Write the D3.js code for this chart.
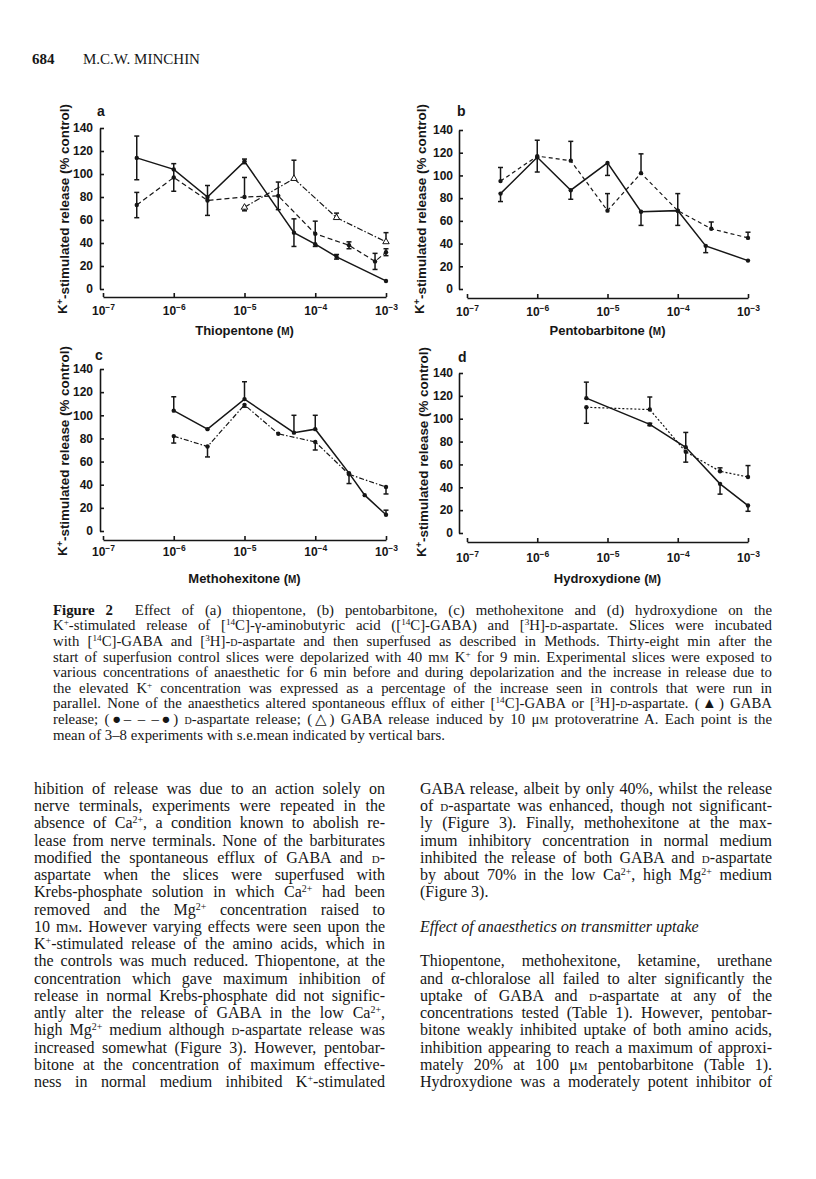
<!DOCTYPE html>
<html>
<head>
<meta charset="utf-8">
<script src="https://cdn.jsdelivr.net/npm/d3@7"></script>
<style>
body { margin: 0; background: #fff; width: 816px; height: 1179px; position: relative; overflow: hidden; }
svg { position: absolute; left: 0; top: 0; }
.ln { position: absolute; text-align: justify; text-align-last: justify; font-family: "Liberation Serif", "Times New Roman", serif; color: #161616; }
.ln.rag { text-align-last: left; }
.sc { font-variant: small-caps; }
sup { font-size: 0.62em; line-height: 0; vertical-align: 0.5em; }
</style>
</head>
<body>
<svg id="chart" width="816" height="1179"></svg>
<script>
var svg = d3.select("#chart");
var ink = "#161616";
var sans = "'Liberation Sans', Arial, Helvetica, sans-serif";

// ---- values (% of control K+-stimulated release) ----
var yTicks = [0, 20, 40, 60, 80, 100, 120, 140];
var xTicks = [1e-7, 1e-6, 1e-5, 1e-4, 1e-3];

// (a) thiopentone
var aGabaConc = [3e-7, 1e-6, 3e-6, 1e-5, 5e-5, 1e-4, 2e-4, 1e-3];
var aGabaVal  = [114, 104, 80, 111, 49, 39, 28, 7];
var aGabaUp   = [19, 0, 0, 2, 12, 0, 2, 0];
var aGabaDn   = [19, 0, 0, 2, 12, 0, 2, 0];
var aAspConc  = [3e-7, 1e-6, 3e-6, 1e-5, 3e-5, 1e-4, 3e-4, 7e-4, 1e-3];
var aAspVal   = [73, 97, 77, 80, 81, 48, 38, 24, 32];
var aAspUp    = [11, 12, 13, 17, 12, 11, 3, 7, 3];
var aAspDn    = [11, 12, 13, 0, 12, 11, 3, 7, 3];
var aProtoConc = [1e-5, 5e-5, 2e-4, 1e-3];
var aProtoVal  = [71, 96, 62, 41];
var aProtoUp   = [0, 16, 4, 8];
var aProtoDn   = [3, 0, 0, 0];

// (b) pentobarbitone
var bGabaConc = [3e-7, 1e-6, 3e-6, 1e-5, 3e-5, 1e-4, 2.5e-4, 1e-3];
var bGabaVal  = [84, 116, 87, 111, 68, 69, 38, 25];
var bGabaUp   = [0, 0, 0, 0, 0, 0, 0, 0];
var bGabaDn   = [7, 13, 8, 11, 12, 13, 6, 0];
var bAspConc  = [3e-7, 1e-6, 3e-6, 1e-5, 3e-5, 1e-4, 3e-4, 1e-3];
var bAspVal   = [95, 117, 113, 69, 102, 69, 53, 45];
var bAspUp    = [12, 14, 17, 15, 17, 15, 6, 5];
var bAspDn    = [0, 0, 0, 0, 0, 0, 0, 0];

// (c) methohexitone
var cGabaConc = [1e-6, 3e-6, 1e-5, 5e-5, 1e-4, 3e-4, 5e-4, 1e-3];
var cGabaVal  = [104, 88, 114, 85, 88, 50, 31, 14];
var cGabaUp   = [12, 0, 15, 15, 12, 0, 0, 4];
var cGabaDn   = [0, 0, 0, 0, 0, 0, 0, 0];
var cAspConc  = [1e-6, 3e-6, 1e-5, 3e-5, 1e-4, 3e-4, 1e-3];
var cAspVal   = [82, 73, 109, 84, 77, 49, 38];
var cAspUp    = [0, 0, 0, 0, 0, 0, 0];
var cAspDn    = [6, 9, 2, 0, 7, 8, 6];

// (d) hydroxydione
var dGabaConc = [5e-6, 4e-5, 1.3e-4, 4e-4, 1e-3];
var dGabaVal  = [118, 95, 75, 43, 24];
var dGabaUp   = [14, 1, 13, 0, 0];
var dGabaDn   = [0, 1, 0, 9, 5];
var dAspConc  = [5e-6, 4e-5, 1.3e-4, 4e-4, 1e-3];
var dAspVal   = [110, 108, 71, 54, 49];
var dAspUp    = [0, 11, 0, 3, 10];
var dAspDn    = [14, 0, 9, 0, 0];

function series(conc, val, up, dn) { //zip the arrays into point objects
	return conc.map(function(c, i) { return {c: c, v: val[i], up: up[i], dn: dn[i]}; });
}

var panels = [
	{key: "a", drug: "Thiopentone", left: 103, right: 386, axisX: 100, base: 289, top: 128, axisY: 297, xPad: 9, yPad: 7,
		titleY: 335, labelX: 67, labelY: 209, letterX: 97, letterY: 116,
		lines: [
			{data: series(aGabaConc, aGabaVal, aGabaUp, aGabaDn), dash: null, mark: "dot"},
			{data: series(aAspConc, aAspVal, aAspUp, aAspDn), dash: "5,3", mark: "dot"},
			{data: series(aProtoConc, aProtoVal, aProtoUp, aProtoDn), dash: "6,2,1.5,2", mark: "tri"}
		]},
	{key: "b", drug: "Pentobarbitone", left: 467, right: 748, axisX: 459, base: 289, top: 130, axisY: 298, xPad: 9, yPad: 6,
		titleY: 335, labelX: 424, labelY: 209, letterX: 457, letterY: 116,
		lines: [
			{data: series(bGabaConc, bGabaVal, bGabaUp, bGabaDn), dash: null, mark: "dot"},
			{data: series(bAspConc, bAspVal, bAspUp, bAspDn), dash: "4,3", mark: "dot"}
		]},
	{key: "c", drug: "Methohexitone", left: 103, right: 386, axisX: 100, base: 531, top: 369, axisY: 540, xPad: 7, yPad: 7,
		titleY: 583, labelX: 67, labelY: 451, letterX: 95, letterY: 360,
		lines: [
			{data: series(cGabaConc, cGabaVal, cGabaUp, cGabaDn), dash: null, mark: "dot"},
			{data: series(cAspConc, cAspVal, cAspUp, cAspDn), dash: "5,2,1.5,2", mark: "dot"}
		]},
	{key: "d", drug: "Hydroxydione", left: 467, right: 748, axisX: 459, base: 533, top: 373, axisY: 542, xPad: 11, yPad: 6,
		titleY: 583, labelX: 426, labelY: 452, letterX: 458, letterY: 362,
		lines: [
			{data: series(dGabaConc, dGabaVal, dGabaUp, dGabaDn), dash: null, mark: "dot"},
			{data: series(dAspConc, dAspVal, dAspUp, dAspDn), dash: "2,2", mark: "dot"}
		]}
];

panels.forEach(drawPanel);

function drawPanel(p) {
	var x = d3.scaleLog().domain([1e-7, 1e-3]).range([p.left, p.right]);
	var y = d3.scaleLinear().domain([0, 140]).range([p.base, p.top]);
	var g = svg.append("g").attr("class", "panel-" + p.key);

	// y axis, ticks pointing inwards
	g.append("g")
		.attr("transform", "translate(" + p.axisX + ",0)")
		.call(d3.axisLeft(y).tickValues(yTicks).tickSize(-4).tickSizeOuter(0).tickPadding(p.yPad));

	// detached x axis, ticks pointing up, labels as powers of ten
	var xa = g.append("g")
		.attr("transform", "translate(0," + p.axisY + ")")
		.call(d3.axisBottom(x).tickValues(xTicks).tickSize(-4).tickSizeOuter(0).tickPadding(p.xPad)
			.tickFormat(function() { return "10"; }));
	xa.selectAll(".tick text").append("tspan")
		.attr("dy", "-0.55em")
		.attr("font-size", "8.5px")
		.text(function(d) { return "\u2212" + Math.round(-Math.log10(d)); });

	g.selectAll(".domain, .tick line").attr("stroke", ink).attr("stroke-width", 1.6);
	g.selectAll(".tick text")
		.attr("fill", ink)
		.attr("font-family", sans)
		.attr("font-size", 12)
		.attr("font-weight", "bold");

	var line = d3.line()
		.x(function(d) { return x(d.c); })
		.y(function(d) { return y(d.v); });

	p.lines.forEach(function(s) {
		g.append("path")
			.datum(s.data)
			.attr("d", line)
			.attr("fill", "none")
			.attr("stroke", ink)
			.attr("stroke-width", s.dash ? 1.2 : 1.5)
			.attr("stroke-dasharray", s.dash);

		// s.e.mean bars (one-sided where the figure shows only one half)
		var bars = g.append("g")
			.selectAll("g")
			.data(s.data.filter(function(d) { return d.up || d.dn; }))
			.enter().append("g")
			.attr("stroke", ink)
			.attr("stroke-width", 1.5);
		bars.append("line")
			.attr("x1", function(d) { return x(d.c); })
			.attr("x2", function(d) { return x(d.c); })
			.attr("y1", function(d) { return y(d.v - d.dn); })
			.attr("y2", function(d) { return y(d.v + d.up); });
		bars.filter(function(d) { return d.up; }).append("line")
			.attr("x1", function(d) { return x(d.c) - 2.5; })
			.attr("x2", function(d) { return x(d.c) + 2.5; })
			.attr("y1", function(d) { return y(d.v + d.up); })
			.attr("y2", function(d) { return y(d.v + d.up); });
		bars.filter(function(d) { return d.dn; }).append("line")
			.attr("x1", function(d) { return x(d.c) - 2.5; })
			.attr("x2", function(d) { return x(d.c) + 2.5; })
			.attr("y1", function(d) { return y(d.v - d.dn); })
			.attr("y2", function(d) { return y(d.v - d.dn); });

		if (s.mark == "tri") {
			g.append("g").selectAll("path")
				.data(s.data)
				.enter().append("path")
				.attr("d", d3.symbol().type(d3.symbolTriangle).size(18))
				.attr("transform", function(d) { return "translate(" + x(d.c) + "," + y(d.v) + ")"; })
				.attr("fill", "#fff")
				.attr("stroke", ink)
				.attr("stroke-width", 1);
		} else {
			g.append("g").selectAll("circle")
				.data(s.data)
				.enter().append("circle")
				.attr("cx", function(d) { return x(d.c); })
				.attr("cy", function(d) { return y(d.v); })
				.attr("r", 2.2)
				.attr("fill", ink);
		}
	});

	// axis title with small-capital M
	var t = g.append("text")
		.attr("x", (p.left + p.right) / 2)
		.attr("y", p.titleY)
		.attr("text-anchor", "middle")
		.attr("font-family", sans)
		.attr("font-size", 13)
		.attr("font-weight", "bold")
		.attr("fill", ink);
	t.append("tspan").text(p.drug + " (");
	t.append("tspan").attr("font-size", "10px").text("M");
	t.append("tspan").text(")");

	// rotated y label
	var yl = g.append("text")
		.attr("transform", "translate(" + p.labelX + "," + p.labelY + ") rotate(-90)")
		.attr("text-anchor", "middle")
		.attr("font-family", sans)
		.attr("font-size", 13.4)
		.attr("font-weight", "bold")
		.attr("fill", ink);
	yl.append("tspan").text("K");
	yl.append("tspan").attr("dy", "-0.5em").attr("font-size", "9px").text("+");
	yl.append("tspan").attr("dy", "0.5em").text("-stimulated release (% control)");

	g.append("text")
		.attr("x", p.letterX)
		.attr("y", p.letterY)
		.attr("font-family", sans)
		.attr("font-size", 14)
		.attr("font-weight", "bold")
		.attr("fill", ink)
		.text(p.key);
}

// ---- page text ----
var caption = [
	'<b>Figure 2</b>&nbsp; Effect of (a) thiopentone, (b) pentobarbitone, (c) methohexitone and (d) hydroxydione on the',
	'K<sup>+</sup>-stimulated release of [<sup>14</sup>C]-γ-aminobutyric acid ([<sup>14</sup>C]-GABA) and [<sup>3</sup>H]-<span class="sc">d</span>-aspartate. Slices were incubated',
	'with [<sup>14</sup>C]-GABA and [<sup>3</sup>H]-<span class="sc">d</span>-aspartate and then superfused as described in Methods. Thirty-eight min after the',
	'start of superfusion control slices were depolarized with 40 m<span class="sc">m</span> K<sup>+</sup> for 9 min. Experimental slices were exposed to',
	'various concentrations of anaesthetic for 6 min before and during depolarization and the increase in release due to',
	'the elevated K<sup>+</sup> concentration was expressed as a percentage of the increase seen in controls that were run in',
	'parallel. None of the anaesthetics altered spontaneous efflux of either [<sup>14</sup>C]-GABA or [<sup>3</sup>H]-<span class="sc">d</span>-aspartate. (▲) GABA',
	'release; (●– – –●) <span class="sc">d</span>-aspartate release; (△) GABA release induced by 10 μ<span class="sc">m</span> protoveratrine A. Each point is the',
	'mean of 3–8 experiments with s.e.mean indicated by vertical bars.'
];

var leftCol = [
	'hibition of release was due to an action solely on',
	'nerve terminals, experiments were repeated in the',
	'absence of Ca<sup>2+</sup>, a condition known to abolish re-',
	'lease from nerve terminals. None of the barbiturates',
	'modified the spontaneous efflux of GABA and <span class="sc">d</span>-',
	'aspartate when the slices were superfused with',
	'Krebs-phosphate solution in which Ca<sup>2+</sup> had been',
	'removed and the Mg<sup>2+</sup> concentration raised to',
	'10 m<span class="sc">m</span>. However varying effects were seen upon the',
	'K<sup>+</sup>-stimulated release of the amino acids, which in',
	'the controls was much reduced. Thiopentone, at the',
	'concentration which gave maximum inhibition of',
	'release in normal Krebs-phosphate did not signific-',
	'antly alter the release of GABA in the low Ca<sup>2+</sup>,',
	'high Mg<sup>2+</sup> medium although <span class="sc">d</span>-aspartate release was',
	'increased somewhat (Figure 3). However, pentobar-',
	'bitone at the concentration of maximum effective-',
	'ness in normal medium inhibited K<sup>+</sup>-stimulated'
];

var rightCol = [
	'GABA release, albeit by only 40%, whilst the release',
	'of <span class="sc">d</span>-aspartate was enhanced, though not significant-',
	'ly (Figure 3). Finally, methohexitone at the max-',
	'imum inhibitory concentration in normal medium',
	'inhibited the release of both GABA and <span class="sc">d</span>-aspartate',
	'by about 70% in the low Ca<sup>2+</sup>, high Mg<sup>2+</sup> medium',
	'(Figure 3).',
	'',
	'<i>Effect of anaesthetics on transmitter uptake</i>',
	'',
	'Thiopentone, methohexitone, ketamine, urethane',
	'and α-chloralose all failed to alter significantly the',
	'uptake of GABA and <span class="sc">d</span>-aspartate at any of the',
	'concentrations tested (Table 1). However, pentobar-',
	'bitone weakly inhibited uptake of both amino acids,',
	'inhibition appearing to reach a maximum of approxi-',
	'mately 20% at 100 μ<span class="sc">m</span> pentobarbitone (Table 1).',
	'Hydroxydione was a moderately potent inhibitor of'
];

function textBlock(lines, left, width, firstY, step, size, ragged) {
	d3.select("body").selectAll(null)
		.data(lines)
		.enter().append("div")
		.attr("class", function(d, i) { return ragged.indexOf(i) >= 0 ? "ln rag" : "ln"; })
		.style("left", left + "px")
		.style("top", function(d, i) { return (firstY + i * step - step / 2 - size * 0.1) + "px"; })
		.style("font-size", size + "px")
		.style("line-height", step + "px")
		.html(function(d) { return d; })
		.each(function() { fit(this, width); });
}

function fit(el, W) { //squeeze letter spacing if a line would not fit its measure
	el.style.whiteSpace = "nowrap";
	var w = el.getBoundingClientRect().width;
	if (w > W) el.style.letterSpacing = ((W - w) / el.textContent.length - 0.01) + "px";
	el.style.whiteSpace = "";
	el.style.width = W + "px";
}

textBlock(caption, 53, 719, 612, 15.6, 14.8, [8]);
textBlock(leftCol, 34, 351, 790, 17.25, 16, []);
textBlock(rightCol, 420, 352, 790, 17.25, 16, [6, 8]);

d3.select("body").append("div")
	.attr("class", "ln rag")
	.style("left", "32px").style("top", "51px")
	.style("font-size", "15px").style("font-weight", "bold")
	.text("684");
d3.select("body").append("div")
	.attr("class", "ln rag")
	.style("left", "83px").style("top", "51px")
	.style("font-size", "15px")
	.text("M.C.W. MINCHIN");
</script>
</body>
</html>
